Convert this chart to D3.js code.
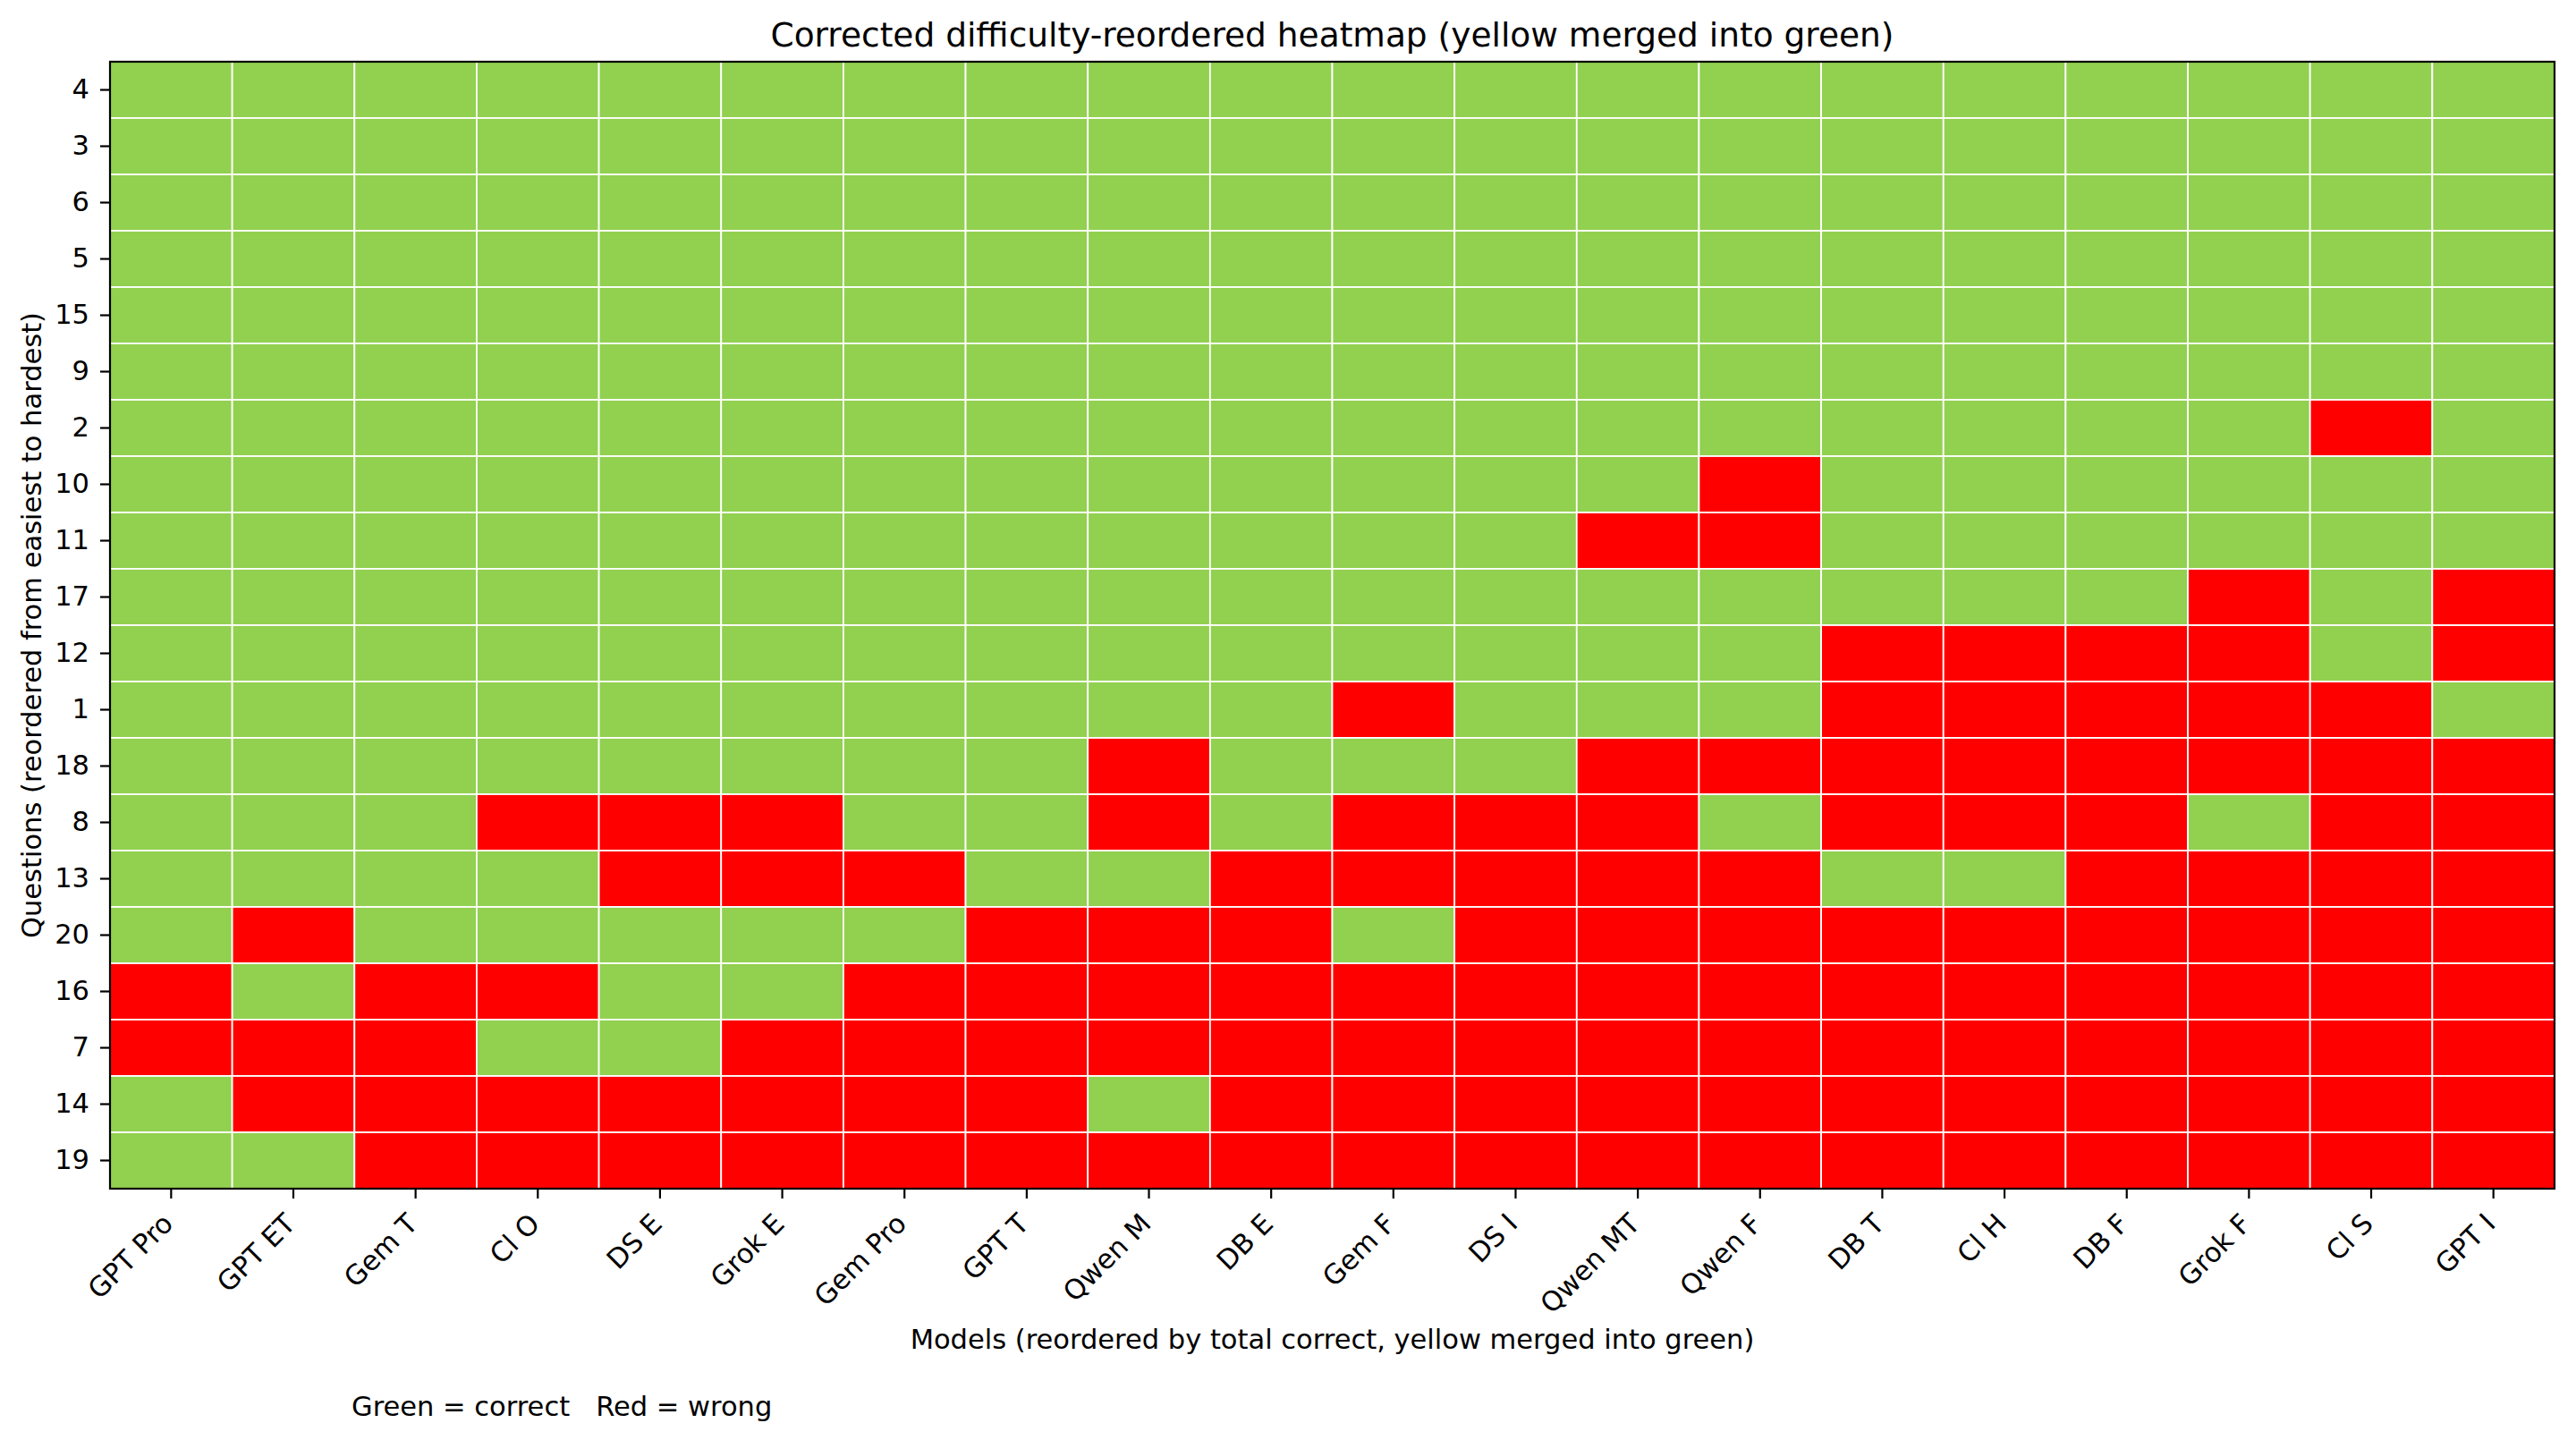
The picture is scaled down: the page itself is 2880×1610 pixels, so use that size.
<!DOCTYPE html>
<html>
<head>
    <title>Difficulty-reordered heatmap</title>
    <script src="https://d3js.org/d3.v7.min.js"></script>
    <style>
        body { margin: 0; background: #fff; }
        text { font-family: "DejaVu Sans", sans-serif; fill: #000; }
        .axis path, .axis line { stroke: #000; stroke-width: 2.2; }
        .axis text { font-size: 30.5px; }
    </style>
</head>
<body>
<div id="chart"></div>
<script>
const models = ["GPT Pro", "GPT ET", "Gem T", "Cl O", "DS E", "Grok E", "Gem Pro", "GPT T", "Qwen M", "DB E",
                "Gem F", "DS I", "Qwen MT", "Qwen F", "DB T", "Cl H", "DB F", "Grok F", "Cl S", "GPT I"];

const questions = ["4", "3", "6", "5", "15", "9", "2", "10", "11", "17",
                   "12", "1", "18", "8", "13", "20", "16", "7", "14", "19"];

// 1 = correct (green), 0 = wrong (red); one row per question, columns follow models
const correct = [
    [1,1,1,1,1,1,1,1,1,1,1,1,1,1,1,1,1,1,1,1],
    [1,1,1,1,1,1,1,1,1,1,1,1,1,1,1,1,1,1,1,1],
    [1,1,1,1,1,1,1,1,1,1,1,1,1,1,1,1,1,1,1,1],
    [1,1,1,1,1,1,1,1,1,1,1,1,1,1,1,1,1,1,1,1],
    [1,1,1,1,1,1,1,1,1,1,1,1,1,1,1,1,1,1,1,1],
    [1,1,1,1,1,1,1,1,1,1,1,1,1,1,1,1,1,1,1,1],
    [1,1,1,1,1,1,1,1,1,1,1,1,1,1,1,1,1,1,0,1],
    [1,1,1,1,1,1,1,1,1,1,1,1,1,0,1,1,1,1,1,1],
    [1,1,1,1,1,1,1,1,1,1,1,1,0,0,1,1,1,1,1,1],
    [1,1,1,1,1,1,1,1,1,1,1,1,1,1,1,1,1,0,1,0],
    [1,1,1,1,1,1,1,1,1,1,1,1,1,1,0,0,0,0,1,0],
    [1,1,1,1,1,1,1,1,1,1,0,1,1,1,0,0,0,0,0,1],
    [1,1,1,1,1,1,1,1,0,1,1,1,0,0,0,0,0,0,0,0],
    [1,1,1,0,0,0,1,1,0,1,0,0,0,1,0,0,0,1,0,0],
    [1,1,1,1,0,0,0,1,1,0,0,0,0,0,1,1,0,0,0,0],
    [1,0,1,1,1,1,1,0,0,0,1,0,0,0,0,0,0,0,0,0],
    [0,1,0,0,1,1,0,0,0,0,0,0,0,0,0,0,0,0,0,0],
    [0,0,0,1,1,0,0,0,0,0,0,0,0,0,0,0,0,0,0,0],
    [1,0,0,0,0,0,0,0,1,0,0,0,0,0,0,0,0,0,0,0],
    [1,1,0,0,0,0,0,0,0,0,0,0,0,0,0,0,0,0,0,0]
];

const W = 2880, H = 1610;
const margin = { top: 69, right: 24, bottom: 281, left: 123 };
const width = W - margin.left - margin.right;
const height = H - margin.top - margin.bottom;

const cells = [];
questions.forEach((q, i) => models.forEach((m, j) => cells.push({ q, m, v: correct[i][j] })));

const svg = d3.select("#chart")
    .append("svg")
    .attr("width", W)
    .attr("height", H);

const g = svg.append("g")
    .attr("transform", `translate(${margin.left}, ${margin.top})`);

const x = d3.scaleBand().domain(models).range([0, width]);
const y = d3.scaleBand().domain(questions).range([0, height]);
const color = d3.scaleOrdinal().domain([1, 0]).range(["#92d050", "#ff0000"]);

g.selectAll(".cell")
    .data(cells)
    .enter()
    .append("rect")
    .attr("class", "cell")
    .attr("x", d => x(d.m))
    .attr("y", d => y(d.q))
    .attr("width", x.bandwidth())
    .attr("height", y.bandwidth())
    .attr("fill", d => color(d.v))
    .attr("stroke", "#fff")
    .attr("stroke-width", 1.8);

// frame
g.append("rect")
    .attr("width", width)
    .attr("height", height)
    .attr("fill", "none")
    .attr("stroke", "#000")
    .attr("stroke-width", 2.2);

// x axis, labels rotated 45 and right-aligned under the tick
const xAxis = g.append("g")
    .attr("class", "axis")
    .attr("transform", `translate(0, ${height})`)
    .call(d3.axisBottom(x).tickSize(11));
xAxis.select(".domain").remove();
xAxis.selectAll("text")
    .attr("text-anchor", "end")
    .attr("x", 0)
    .attr("y", 0)
    .attr("dy", 0)
    .attr("transform", "translate(4, 41) rotate(-45)");

// y axis
const yAxis = g.append("g")
    .attr("class", "axis")
    .call(d3.axisLeft(y).tickSize(11).tickPadding(12));
yAxis.select(".domain").remove();

// title and labels
svg.append("text")
    .attr("x", margin.left + width / 2)
    .attr("y", 52)
    .attr("text-anchor", "middle")
    .style("font-size", "37.5px")
    .text("Corrected difficulty-reordered heatmap (yellow merged into green)");

svg.append("text")
    .attr("x", margin.left + width / 2)
    .attr("y", 1508)
    .attr("text-anchor", "middle")
    .style("font-size", "30.5px")
    .text("Models (reordered by total correct, yellow merged into green)");

svg.append("text")
    .attr("transform", `translate(46, ${margin.top + height / 2}) rotate(-90)`)
    .attr("text-anchor", "middle")
    .style("font-size", "30.5px")
    .text("Questions (reordered from easiest to hardest)");

svg.append("text")
    .attr("x", 393)
    .attr("y", 1583)
    .style("font-size", "30.5px")
    .style("white-space", "pre")
    .attr("xml:space", "preserve")
    .text("Green = correct   Red = wrong");
</script>
</body>
</html>
